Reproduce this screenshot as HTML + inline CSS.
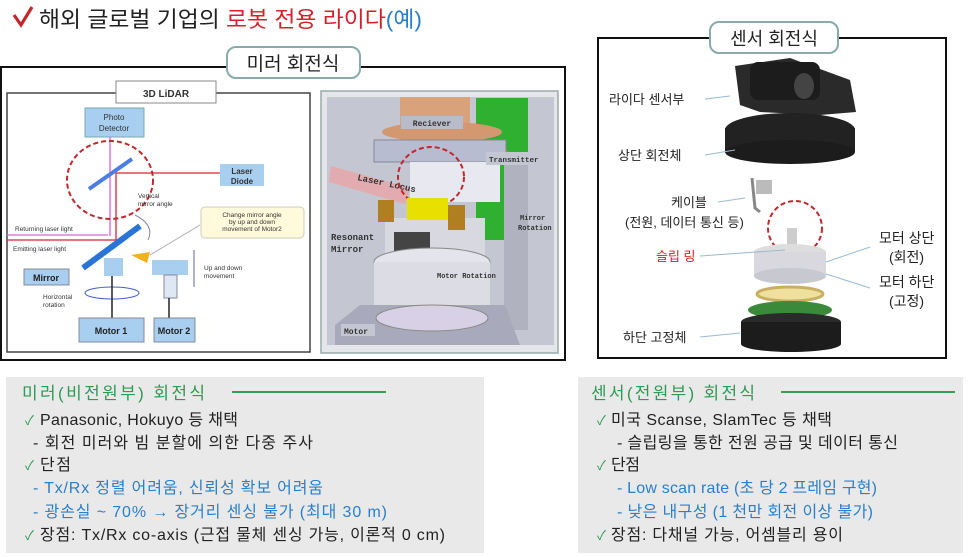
<!DOCTYPE html>
<html><head><meta charset="utf-8"><style>
body{margin:0;background:#fff}
svg{display:block}
text{font-family:"Liberation Sans","Noto Sans CJK KR",sans-serif}
.k{font-family:"Liberation Sans","Noto Sans CJK KR",sans-serif}
.m{font-family:"Liberation Mono","Noto Sans CJK KR",monospace;font-weight:bold}
</style></head><body>
<svg width="976" height="557" viewBox="0 0 976 557" xmlns="http://www.w3.org/2000/svg">
<rect width="976" height="557" fill="#fff"/>
<path d="M14 15 L21 25 L32 7" stroke="#c0282c" stroke-width="3.2" fill="none"/>
<text x="39" y="27" font-size="22" class="k" fill="#222" textLength="383" lengthAdjust="spacingAndGlyphs">해외 글로벌 기업의 <tspan fill="#d3202a">로봇 전용 라이다</tspan><tspan fill="#2a7fc8">(예)</tspan></text>

<rect x="1" y="67" width="564" height="293" fill="#fff" stroke="#111" stroke-width="2"/>
<rect x="227" y="47" width="133" height="31" rx="9" fill="#fff" stroke="#8aa" stroke-width="2"/>
<text x="293" y="70" font-size="19" class="k" text-anchor="middle" fill="#222">미러 회전식</text>

<rect x="7" y="93" width="303" height="259" fill="#fff" stroke="#444" stroke-width="1.5"/>
<rect x="116" y="81" width="100" height="22" fill="#fff" stroke="#888"/>
<text x="166" y="97" font-size="10" font-weight="bold" text-anchor="middle" fill="#333">3D LiDAR</text>
<rect x="85" y="108" width="59" height="29" fill="#a8cef0" stroke="#7aa"/>
<text x="114" y="120" font-size="8" text-anchor="middle" fill="#333">Photo</text>
<text x="114" y="131" font-size="8" text-anchor="middle" fill="#333">Detector</text>
<rect x="220" y="164" width="44" height="22" fill="#a8cef0"/>
<text x="242" y="174" font-size="8" text-anchor="middle" font-weight="bold" fill="#333">Laser</text>
<text x="242" y="184" font-size="8" text-anchor="middle" font-weight="bold" fill="#333">Diode</text>
<line x1="110" y1="137" x2="110" y2="236" stroke="#e060d0" stroke-width="1.3"/>
<line x1="116" y1="173" x2="220" y2="173" stroke="#e02030" stroke-width="1.3"/>
<line x1="116" y1="173" x2="116" y2="242" stroke="#e02030" stroke-width="1.3"/>
<line x1="7" y1="235" x2="108" y2="235" stroke="#e060d0" stroke-width="1.3"/>
<line x1="7" y1="240" x2="116" y2="240" stroke="#e02030" stroke-width="1.3"/>
<line x1="89" y1="189" x2="132" y2="159" stroke="#4a7ee0" stroke-width="4"/>
<ellipse cx="110" cy="180" rx="43" ry="39" fill="none" stroke="#c0282c" stroke-width="2" stroke-dasharray="5,3"/>
<line x1="83" y1="268" x2="140" y2="226" stroke="#2a74d8" stroke-width="6"/>
<rect x="104" y="258" width="19" height="18" fill="#a8cef0"/>
<path d="M131 255 L147 263 L150 252 Z" fill="#f0b020"/>
<rect x="152" y="260" width="36" height="15" fill="#a8cef0"/>
<rect x="164" y="275" width="13" height="23" fill="#dde8f4" stroke="#889"/>
<rect x="24" y="269" width="45" height="16" fill="#a8cef0" stroke="#889"/>
<text x="46" y="281" font-size="9" font-weight="bold" text-anchor="middle" fill="#222">Mirror</text>
<text x="15" y="231" font-size="6.5" fill="#333">Returning laser light</text>
<text x="13" y="251" font-size="6.5" fill="#333">Emitting laser light</text>
<text x="138" y="198" font-size="6.5" fill="#333">Vertical</text>
<text x="138" y="206" font-size="6.5" fill="#333">mirror angle</text>
<path d="M135 215 Q155 225 148 240" stroke="#88a" fill="none"/>
<rect x="201" y="207" width="103" height="31" rx="4" fill="#fffadc" stroke="#ccb"/>
<text x="252" y="217" font-size="6.5" text-anchor="middle" fill="#333">Change mirror angle</text>
<text x="252" y="224" font-size="6.5" text-anchor="middle" fill="#333">by up and down</text>
<text x="252" y="231" font-size="6.5" text-anchor="middle" fill="#333">movement of Motor2</text>
<line x1="200" y1="225" x2="150" y2="255" stroke="#aab"/>
<text x="204" y="270" font-size="6.5" fill="#333">Up and down</text>
<text x="204" y="278" font-size="6.5" fill="#333">movement</text>
<line x1="194" y1="250" x2="194" y2="287" stroke="#669"/>
<ellipse cx="112" cy="293" rx="27" ry="6" fill="none" stroke="#4060c0"/>
<text x="43" y="299" font-size="6.5" fill="#333">Horizontal</text>
<text x="43" y="307" font-size="6.5" fill="#333">rotation</text>
<line x1="112" y1="276" x2="112" y2="318" stroke="#222" stroke-width="1.5"/>
<line x1="169" y1="298" x2="169" y2="318" stroke="#222" stroke-width="1.5"/>
<rect x="79" y="318" width="65" height="24" fill="#a8cef0" stroke="#889"/>
<text x="111" y="334" font-size="9" font-weight="bold" text-anchor="middle" fill="#222">Motor 1</text>
<rect x="154" y="318" width="41" height="24" fill="#a8cef0" stroke="#889"/>
<text x="174" y="334" font-size="9" font-weight="bold" text-anchor="middle" fill="#222">Motor 2</text>

<rect x="321" y="91" width="237" height="262" fill="#e4e6ea" stroke="#9aa" stroke-width="1.5"/>
<rect x="327" y="97" width="227" height="248" fill="#c4c6d2"/>
<rect x="476" y="98" width="52" height="142" fill="#30b030"/>
<path d="M506 150 Q540 170 520 210 L506 210 Z" fill="#b08a50"/>
<rect x="400" y="97" width="70" height="33" fill="#d9a27a"/>
<ellipse cx="442" cy="132" rx="60" ry="10" fill="#d49870"/>
<rect x="374" y="140" width="132" height="22" fill="#b8bcd0" stroke="#889"/>
<rect x="504" y="165" width="24" height="165" fill="#b0b2c0"/>
<rect x="410" y="162" width="90" height="40" fill="#e8e8f0"/>
<rect x="401" y="116" width="62" height="13" fill="#b8bcc8"/>
<text x="432" y="126" font-size="8" class="m" text-anchor="middle" fill="#333">Reciever</text>
<polygon points="331,166 410,188 405,204 329,182" fill="#f0a0a0" opacity="0.7"/>
<text x="357" y="180" font-size="9" class="m" fill="#333" transform="rotate(12 357 180)">Laser Locus</text>
<rect x="486" y="152" width="62" height="13" fill="#c4c6d2"/>
<text x="489" y="162" font-size="7.5" class="m" fill="#333">Transmitter</text>
<ellipse cx="431" cy="177" rx="33" ry="30" fill="none" stroke="#c0282c" stroke-width="2" stroke-dasharray="5,3"/>
<rect x="385" y="218" width="100" height="40" fill="#d8d8e0"/>
<rect x="407" y="198" width="41" height="22" fill="#e8e000"/>
<rect x="394" y="232" width="36" height="22" fill="#444"/>
<rect x="378" y="200" width="16" height="22" fill="#b08020"/>
<rect x="448" y="205" width="17" height="25" fill="#b08020"/>
<ellipse cx="432" cy="262" rx="58" ry="14" fill="#e4e4ec" stroke="#888"/>
<rect x="374" y="262" width="116" height="50" fill="#dcdce4"/>
<polygon points="335,325 360,305 505,305 520,345 335,345" fill="#a8aabb"/>
<ellipse cx="432" cy="318" rx="56" ry="13" fill="#d8d0e4" stroke="#888"/>
<text x="331" y="240" font-size="9" class="m" fill="#333">Resonant</text>
<text x="331" y="252" font-size="9" class="m" fill="#333">Mirror</text>
<text x="437" y="278" font-size="7" class="m" fill="#333">Motor Rotation</text>
<text x="520" y="220" font-size="7" class="m" fill="#333">Mirror</text>
<text x="518" y="230" font-size="7" class="m" fill="#333">Rotation</text>
<rect x="341" y="324" width="34" height="12" fill="#c4c6d2"/>
<text x="344" y="334" font-size="8" class="m" fill="#333">Motor</text>

<rect x="598" y="38" width="348" height="320" fill="#fff" stroke="#111" stroke-width="2"/>
<rect x="710" y="22" width="128" height="31" rx="9" fill="#fff" stroke="#8aa" stroke-width="2"/>
<text x="774" y="45" font-size="18" class="k" text-anchor="middle" fill="#222">센서 회전식</text>
<path d="M735 66 L790 58 L850 80 L856 112 L820 115 L760 112 L740 105 Z" fill="#2a2a2a"/>
<rect x="750" y="62" width="70" height="38" rx="8" fill="#1c1c1c"/>
<ellipse cx="804" cy="86" rx="10" ry="13" fill="#444"/>
<ellipse cx="790" cy="130" rx="65" ry="17" fill="#222"/>
<rect x="725" y="128" width="130" height="24" fill="#222"/>
<ellipse cx="790" cy="152" rx="65" ry="12" fill="#1c1c1c"/>
<path d="M752 178 L755 208 L760 212" stroke="#888" stroke-width="3" fill="none"/>
<rect x="756" y="180" width="16" height="14" fill="#bbb"/>
<circle cx="795" cy="228" r="27" fill="none" stroke="#c0282c" stroke-width="2" stroke-dasharray="5,3"/>
<rect x="787" y="228" width="10" height="22" fill="#ccc"/>
<ellipse cx="790" cy="252" rx="36" ry="8" fill="#ddd"/>
<rect x="754" y="252" width="72" height="24" fill="#d8d8de"/>
<ellipse cx="790" cy="276" rx="36" ry="8" fill="#c8c8d0"/>
<ellipse cx="790" cy="294" rx="33" ry="7" fill="#f0e0a0" stroke="#c8b060" stroke-width="3"/>
<ellipse cx="790" cy="310" rx="42" ry="9" fill="#3a8a3a"/>
<ellipse cx="791" cy="322" rx="50" ry="9" fill="#2a2a2a"/>
<rect x="741" y="322" width="100" height="22" fill="#1c1c1c"/>
<ellipse cx="791" cy="344" rx="50" ry="8" fill="#1c1c1c"/>
<g font-size="13" class="k" fill="#222">
<text x="609" y="104">라이다 센서부</text>
<text x="618" y="160">상단 회전체</text>
<text x="671" y="207">케이블</text>
<text x="625" y="227">(전원, 데이터 통신 등)</text>
<text x="656" y="261" fill="#d3202a">슬립 링</text>
<text x="879" y="243" font-size="14">모터 상단</text>
<text x="889" y="262" font-size="14">(회전)</text>
<text x="879" y="287" font-size="14">모터 하단</text>
<text x="889" y="306" font-size="14">(고정)</text>
<text x="623" y="342">하단 고정체</text>
</g>
<g stroke="#9bc" stroke-width="1">
<line x1="705" y1="99" x2="730" y2="96"/><line x1="705" y1="155" x2="735" y2="150"/>
<line x1="718" y1="202" x2="745" y2="198"/><line x1="700" y1="256" x2="785" y2="250"/>
<line x1="826" y1="262" x2="870" y2="247"/><line x1="826" y1="274" x2="870" y2="288"/>
<line x1="700" y1="337" x2="740" y2="333"/></g>

<rect x="6" y="377" width="478" height="176" fill="#e9e9ea"/>
<rect x="578" y="377" width="385" height="176" fill="#e9e9ea"/>
<g font-size="16" class="k">
<text x="22" y="399" fill="#2e9a52" font-size="17" textLength="183" lengthAdjust="spacing">미러(비전원부) 회전식</text>
<line x1="232" y1="392" x2="386" y2="392" stroke="#3a9a5a" stroke-width="2"/>
<text x="25" y="425" fill="#2e9a52" font-size="13">✓</text>
<text x="40" y="425" fill="#222" textLength="198" lengthAdjust="spacing">Panasonic, Hokuyo 등 채택</text>
<text x="33" y="448" fill="#222" textLength="280" lengthAdjust="spacing">- 회전 미러와 빔 분할에 의한 다중 주사</text>
<text x="25" y="470" fill="#2e9a52" font-size="13">✓</text>
<text x="40" y="470" fill="#222" textLength="31" lengthAdjust="spacing">단점</text>
<text x="33" y="493" fill="#2a7fc8" textLength="290" lengthAdjust="spacing">- Tx/Rx 정렬 어려움, 신뢰성 확보 어려움</text>
<text x="33" y="517" fill="#2a7fc8" textLength="354" lengthAdjust="spacing">- 광손실 ~ 70% → 장거리 센싱 불가 (최대 30 m)</text>
<text x="25" y="540" fill="#2e9a52" font-size="13">✓</text>
<text x="40" y="540" fill="#222" textLength="405" lengthAdjust="spacing">장점: Tx/Rx co-axis (근접 물체 센싱 가능, 이론적 0 cm)</text>

<text x="591" y="399" fill="#2e9a52" font-size="17" textLength="164" lengthAdjust="spacing">센서(전원부) 회전식</text>
<line x1="781" y1="392" x2="955" y2="392" stroke="#3a9a5a" stroke-width="2"/>
<text x="597" y="425" fill="#2e9a52" font-size="13">✓</text>
<text x="611" y="425" fill="#222" textLength="221" lengthAdjust="spacing">미국 Scanse, SlamTec 등 채택</text>
<text x="617" y="448" fill="#222" textLength="281" lengthAdjust="spacing">- 슬립링을 통한 전원 공급 및 데이터 통신</text>
<text x="597" y="470" fill="#2e9a52" font-size="13">✓</text>
<text x="611" y="470" fill="#222" textLength="29" lengthAdjust="spacing">단점</text>
<text x="617" y="493" fill="#2a7fc8" textLength="260" lengthAdjust="spacing">- Low scan rate (초 당 2 프레임 구현)</text>
<text x="617" y="517" fill="#2a7fc8" textLength="256" lengthAdjust="spacing">- 낮은 내구성 (1 천만 회전 이상 불가)</text>
<text x="597" y="540" fill="#2e9a52" font-size="13">✓</text>
<text x="611" y="540" fill="#222" textLength="232" lengthAdjust="spacing">장점: 다채널 가능, 어셈블리 용이</text>
</g>
</svg>
</body></html>
